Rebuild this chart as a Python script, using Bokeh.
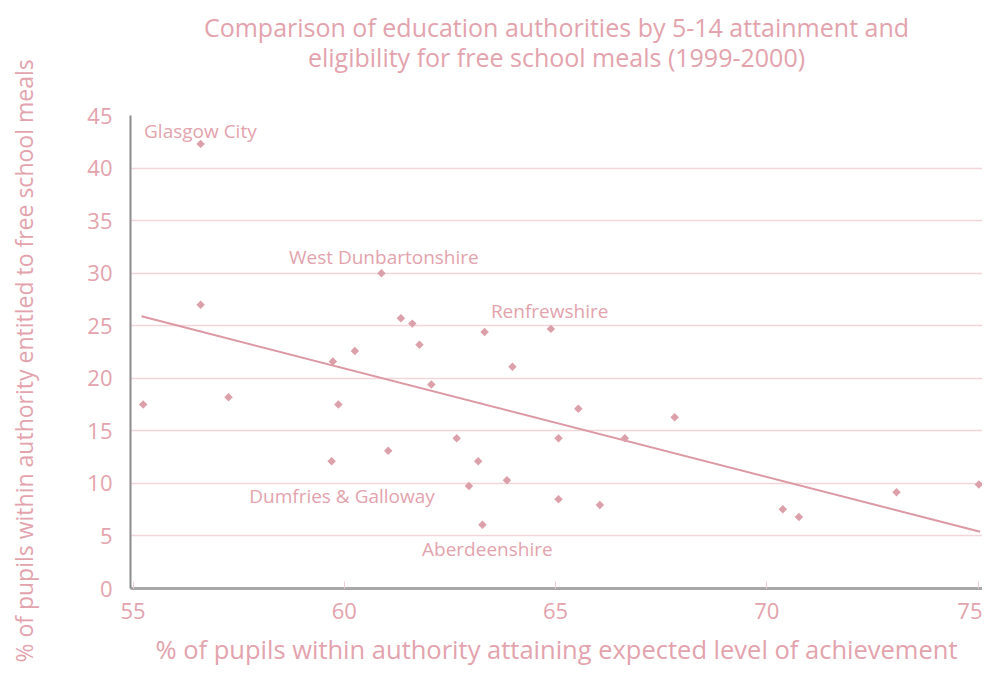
import math
from bokeh.plotting import figure
from bokeh.models import (ColumnDataSource, Label, Range1d, FixedTicker,
                          LinearAxis)
from bokeh.embed import file_html
from bokeh.resources import INLINE

# % attaining expected level (x) and % entitled to free school meals (y)
attainment = [56.6, 56.6, 55.24, 57.26, 59.73, 59.86, 59.70, 60.25, 60.88, 61.04,
              61.34, 61.61, 61.78, 62.06, 62.66, 62.95, 63.17, 63.27, 63.32, 63.85,
              63.98, 64.89, 65.07, 65.07, 65.54, 66.05, 66.64, 67.82, 70.38, 70.76,
              73.07, 75.02]
free_meals = [42.3, 27.0, 17.5, 18.2, 21.6, 17.5, 12.1, 22.6, 30.0, 13.1,
              25.7, 25.2, 23.2, 19.4, 14.3, 9.75, 12.1, 6.07, 24.4, 10.3,
              21.1, 24.7, 14.3, 8.5, 17.1, 7.94, 14.3, 16.3, 7.53, 6.8,
              9.15, 9.9]

trend_x = [55.2, 75.05]
trend_y = [25.9, 5.4]

label_names = ["Glasgow City", "West Dunbartonshire", "Renfrewshire",
               "Dumfries & Galloway", "Aberdeenshire"]
label_x = [55.26, 58.69, 63.47, 57.75, 61.84]
label_y = [43.57, 31.55, 26.4, 8.77, 3.72]

x_ticks = [55, 60, 65, 70, 75]
y_ticks = [0, 5, 10, 15, 20, 25, 30, 35, 40, 45]

title_lines = ["Comparison of education authorities by 5-14 attainment and",
               "eligibility for free school meals (1999-2000)"]

PINK = "#e3a3ad"
GRID = "#f3d6db"
FONT = "Open Sans"

p = figure(width=982, height=668, output_backend="svg",
           toolbar_location=None,
           x_range=Range1d(54.94, 75.106), y_range=Range1d(0, 45),
           min_border_left=130, min_border_right=0, min_border_top=115,
           min_border_bottom=80)
p.outline_line_color = None
p.background_fill_color = "white"

# two-line title, drawn as labels of tick-less axes above the plot
for t, so in zip([title_lines[1], title_lines[0]], [42, -7]):
    ta = LinearAxis(ticker=FixedTicker(ticks=[]), axis_label=t,
                    axis_line_color=None, major_tick_in=0, major_tick_out=0,
                    minor_tick_in=0, minor_tick_out=0,
                    major_label_standoff=0, axis_label_standoff=so,
                    axis_label_text_color=PINK, axis_label_text_font=FONT,
                    axis_label_text_font_size="25px",
                    axis_label_text_font_style="normal")
    p.add_layout(ta, "above")

# grid
p.xgrid.grid_line_color = None
p.ygrid.grid_line_color = GRID
p.ygrid.grid_line_width = 1.5
p.ygrid.ticker = FixedTicker(ticks=y_ticks)

# axes
xa = p.below[0]
ya = p.left[0]
xa.ticker = FixedTicker(ticks=x_ticks)
ya.ticker = FixedTicker(ticks=y_ticks)
for ax in (xa, ya):
    ax.major_label_text_color = PINK
    ax.major_label_text_font = FONT
    ax.major_label_text_font_size = "22px"
    ax.axis_label_text_color = PINK
    ax.axis_label_text_font = FONT
    ax.axis_label_text_font_style = "normal"
    ax.minor_tick_line_color = None

xa.axis_label_text_font_size = "25.5px"
ya.axis_label_text_font_size = "23px"

xa.axis_line_color = "#a8a8a8"
xa.axis_line_width = 3
xa.major_tick_in = 7
xa.major_tick_out = 0
xa.major_tick_line_color = "#f0d0d5"
xa.major_label_standoff = 14
xa.axis_label = "% of pupils within authority attaining expected level of achievement"
xa.axis_label_standoff = 10

ya.axis_line_color = "#8c8c8c"
ya.axis_line_width = 2
ya.major_tick_line_color = None
ya.major_label_standoff = 12
ya.axis_label = "% of pupils within authority entitled to free school meals\u00a0\u00a0\u00a0"
ya.axis_label_standoff = 44

src = ColumnDataSource(dict(x=attainment, y=free_meals))
p.line(trend_x, trend_y, line_color="#dc98a3", line_width=2)
p.scatter("x", "y", source=src, marker="square", size=6, angle=math.pi / 4,
          fill_color="#dca0aa", line_color=None)

for name, lx, ly in zip(label_names, label_x, label_y):
    p.add_layout(Label(x=lx, y=ly, text=name, text_color=PINK,
                       text_font=FONT, text_font_size="19px",
                       text_baseline="middle", text_align="left"))

open("out.html", "w").write(file_html(p, INLINE))
